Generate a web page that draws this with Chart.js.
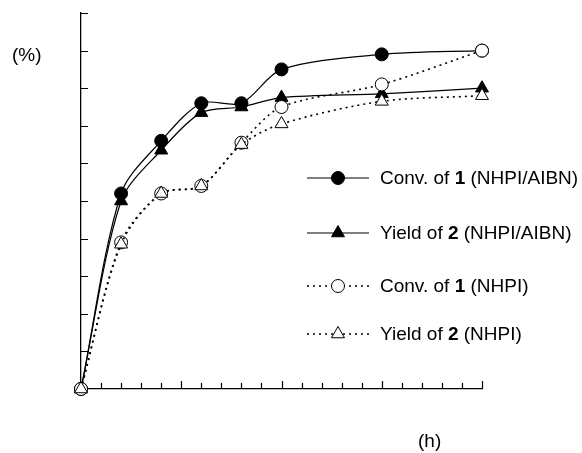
<!DOCTYPE html>
<html>
<head>
<meta charset="utf-8">
<script src="https://cdn.jsdelivr.net/npm/chart.js@4.4.1/dist/chart.umd.min.js"></script>
<style>
  html, body { margin: 0; padding: 0; background: #fff; }
  #wrap { width: 582px; height: 453px; }
</style>
</head>
<body>
<div id="wrap"><canvas id="reaction"></canvas></div>
<script>
// time (h) and percentages
const hours = [0, 2, 4, 6, 8, 10, 15, 20];
const convAibn = [0, 52, 66, 76, 76, 85, 89, 90];
const yieldAibn = [0, 50, 63.5, 73.5, 75, 77.5, 78.5, 80];
const convNhpi = [0, 39, 52, 54, 65.5, 75, 81, 90];
const yieldNhpi = [0, 38.5, 52, 54, 65, 70.5, 76.5, 78];

const legendRows = [
    [['Conv. of ', false], ['1', true], [' (NHPI/AIBN)', false]],
    [['Yield of ', false], ['2', true], [' (NHPI/AIBN)', false]],
    [['Conv. of ', false], ['1', true], [' (NHPI)', false]],
    [['Yield of ', false], ['2', true], [' (NHPI)', false]]
];

const FONT = '"Liberation Sans", Arial, sans-serif';

function pts(ys) {
    return hours.map((h, i) => ({x: h, y: ys[i]}));
}

function series(label, ys, style, filled, dotted, order) {
    return {
        label,
        data: pts(ys),
        order,
        borderColor: '#000',
        borderWidth: dotted ? 1.6 : 1.2,
        borderDash: dotted ? [2, 4] : [],
        tension: 0.3,
        pointStyle: style,
        pointRadius: style === 'triangle' ? 7.5 : 6.5,
        pointHoverRadius: style === 'triangle' ? 7.5 : 6.5,
        pointBorderWidth: 1,
        pointBorderColor: '#000',
        pointBackgroundColor: filled ? '#000' : '#fff',
        clip: false
    };
}

// inside ticks, axis units and the hand-drawn style legend
const decorations = {
    id: 'decorations',
    afterDraw(chart) {
        const ctx = chart.ctx;
        const xs = chart.scales.x;
        const ys = chart.scales.y;
        const a = chart.chartArea;
        ctx.save();
        ctx.strokeStyle = '#000';
        ctx.lineWidth = 1.2;
        ctx.beginPath();
        for (let v = 10; v <= 100; v += 10) {
            const py = Math.round(ys.getPixelForValue(v)) + 0.5;
            ctx.moveTo(a.left, py);
            ctx.lineTo(a.left + 7, py);
        }
        for (let h = 1; h <= 20; h++) {
            const px = Math.round(xs.getPixelForValue(h)) + 0.5;
            ctx.moveTo(px, a.bottom);
            ctx.lineTo(px, a.bottom - (h % 5 === 0 ? 8 : 6));
        }
        ctx.stroke();

        ctx.fillStyle = '#000';
        ctx.textBaseline = 'middle';
        ctx.font = '19px ' + FONT;
        ctx.fillText('(%)', 12, 56);
        ctx.fillText('(h)', 418, 442);

        const rowY = [178, 233, 286, 334];
        chart.data.datasets.forEach((ds, i) => {
            const y = rowY[i];
            ctx.save();
            ctx.lineWidth = ds.borderWidth;
            ctx.setLineDash(ds.borderDash);
            ctx.beginPath();
            ctx.moveTo(307, y);
            ctx.lineTo(369, y);
            ctx.stroke();
            ctx.restore();
            ctx.save();
            ctx.fillStyle = ds.pointBackgroundColor;
            ctx.strokeStyle = '#000';
            ctx.lineWidth = 1;
            Chart.helpers.drawPoint(ctx, {
                pointStyle: ds.pointStyle,
                radius: ds.pointRadius,
                rotation: 0,
                borderWidth: 1
            }, 338, y);
            ctx.restore();

            let tx = 380;
            legendRows[i].forEach(([txt, bold]) => {
                ctx.font = (bold ? 'bold ' : '') + '19px ' + FONT;
                ctx.fillText(txt, tx, y + 1);
                tx += ctx.measureText(txt).width;
            });
        });
        ctx.restore();
    }
};

new Chart(document.getElementById('reaction'), {
    type: 'line',
    data: {
        datasets: [
            series('Conv. of 1 (NHPI/AIBN)', convAibn, 'circle', true, false, 4),
            series('Yield of 2 (NHPI/AIBN)', yieldAibn, 'triangle', true, false, 3),
            series('Conv. of 1 (NHPI)', convNhpi, 'circle', false, true, 2),
            series('Yield of 2 (NHPI)', yieldNhpi, 'triangle', false, true, 1)
        ]
    },
    options: {
        responsive: true,
        maintainAspectRatio: false,
        animation: false,
        layout: {
            padding: {left: 81, right: 100, top: 13, bottom: 64}
        },
        plugins: {
            legend: {display: false},
            tooltip: {enabled: false}
        },
        scales: {
            x: {
                type: 'linear',
                min: 0,
                max: 20,
                grid: {display: false},
                ticks: {display: false},
                border: {display: true, color: '#000', width: 1.3},
                afterFit: (s) => { s.height = 0; }
            },
            y: {
                min: 0,
                max: 100,
                grid: {display: false},
                ticks: {display: false},
                border: {display: true, color: '#000', width: 1.3},
                afterFit: (s) => { s.width = 0; }
            }
        }
    },
    plugins: [decorations]
});
</script>
</body>
</html>
